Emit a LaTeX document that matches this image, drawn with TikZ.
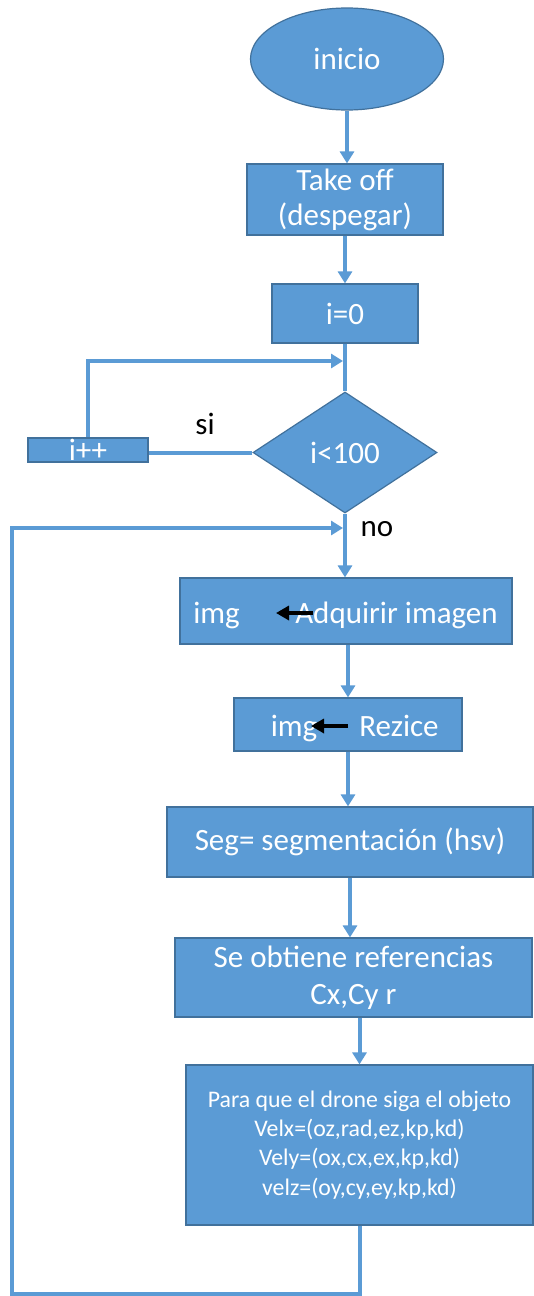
\documentclass[tikz,border=0pt]{standalone}
\usepackage{fontspec}
\setmainfont{Carlito}
\usetikzlibrary{shapes.geometric,arrows.meta}
\definecolor{boxfill}{HTML}{5B9BD5}
\definecolor{boxline}{HTML}{41719C}
\tikzset{
  blk/.style={draw=boxline, line width=1.2pt, fill=boxfill, text=white,
    inner sep=0pt, align=center, font=\fontsize{31}{35}\selectfont},
  intext/.style={text=white, inner sep=0pt, anchor=base, font=\fontsize{31}{35}\selectfont},
  lbl/.style={text=black, inner sep=0pt, font=\fontsize{31}{35}\selectfont},
  flow/.style={draw=boxfill, line width=4pt, -{Triangle[width=14pt,length=12pt]}},
  link/.style={draw=boxfill, line width=4pt},
  ptr/.style={draw=black, line width=4pt, -{Triangle[width=14pt,length=13pt]}},
}
\begin{document}
\begin{tikzpicture}[x=1pt,y=-1pt]
\useasboundingbox (0,0) rectangle (533,1296);
\fill[white] (0,0) rectangle (533,1296);

% flow chart blocks
\node[blk, ellipse, minimum width=193pt, minimum height=102pt] (start) at (347,59) {inicio};
\node[blk, minimum width=196pt, minimum height=71pt] (takeoff) at (345,199.5) {Take off\\(despegar)};
\node[blk, minimum width=146pt, minimum height=59pt] (init) at (345,313.5) {i=0};
\node[blk, diamond, aspect=1.52, minimum width=184pt, minimum height=121pt] (cond) at (345,452.5) {i<100};
\node[blk, minimum width=120pt, minimum height=24pt] (inc) at (88,450) {i++};

\node[blk, minimum width=332pt, minimum height=66pt] (adq) at (346,611) {};
\node[intext] (adqimg) at (216.5,623) {img};
\node[intext] (adqtxt) at (396.5,623) {Adquirir imagen};

\node[blk, minimum width=228pt, minimum height=53pt] (rez) at (348,724.5) {};
\node[intext] (rezimg) at (294,736) {img};
\node[intext] (reztxt) at (399,736) {Rezice};

\node[blk, minimum width=366pt, minimum height=70pt] (seg) at (350,842) {Seg= segmentación (hsv)};
\node[blk, minimum width=357pt, minimum height=79pt, font=\fontsize{31}{37}\selectfont] (refs) at (353.5,977.5) {Se obtiene referencias\\Cx,Cy r};
\node[blk, minimum width=347pt, minimum height=160pt, font=\fontsize{23.8}{29.2}\selectfont] (ctrl) at (359.5,1145)
  {Para que el drone siga el objeto\\Velx=(oz,rad,ez,kp,kd)\\Vely=(ox,cx,ex,kp,kd)\\velz=(oy,cy,ey,kp,kd)};

% branch labels
\node[lbl] (si) at (205,424) {si};
\node[lbl] (no) at (377,529.5) {no};

% assignment arrows inside the image blocks
\coordinate (a1) at (313,613);
\coordinate (a2) at (276,613);
\coordinate (b1) at (348,726);
\coordinate (b2) at (311,726);
\draw[ptr] (a1) -- (a2);
\draw[ptr] (b1) -- (b2);

% junctions on the main line
\coordinate (j1) at (343,361);
\coordinate (j2) at (343,528);
\coordinate (low) at (12,1294);

% main flow
\draw[flow] (start.south) -- (start.south |- takeoff.north);
\draw[flow] (takeoff.south) -- (takeoff.south |- init.north);
\draw[link] (init.south) -- (cond.north);
\draw[flow] (cond.south) -- (cond.south |- adq.north);
\draw[flow] (rez.north |- adq.south) -- (rez.north);
\draw[flow] (rez.south) -- (rez.south |- seg.north);
\draw[flow] (seg.south) -- (seg.south |- refs.north);
\draw[flow] (ctrl.north |- refs.south) -- (ctrl.north);

% counter loop
\draw[link] (cond.west) -- (cond.west -| inc.east);
\draw[flow] (inc.north) -- (inc.north |- j1) -- (j1);

% return loop
\draw[flow] (ctrl.south) -- (ctrl.south |- low) -- (low) -- (low |- j2) -- (j2);
\end{tikzpicture}
\end{document}
